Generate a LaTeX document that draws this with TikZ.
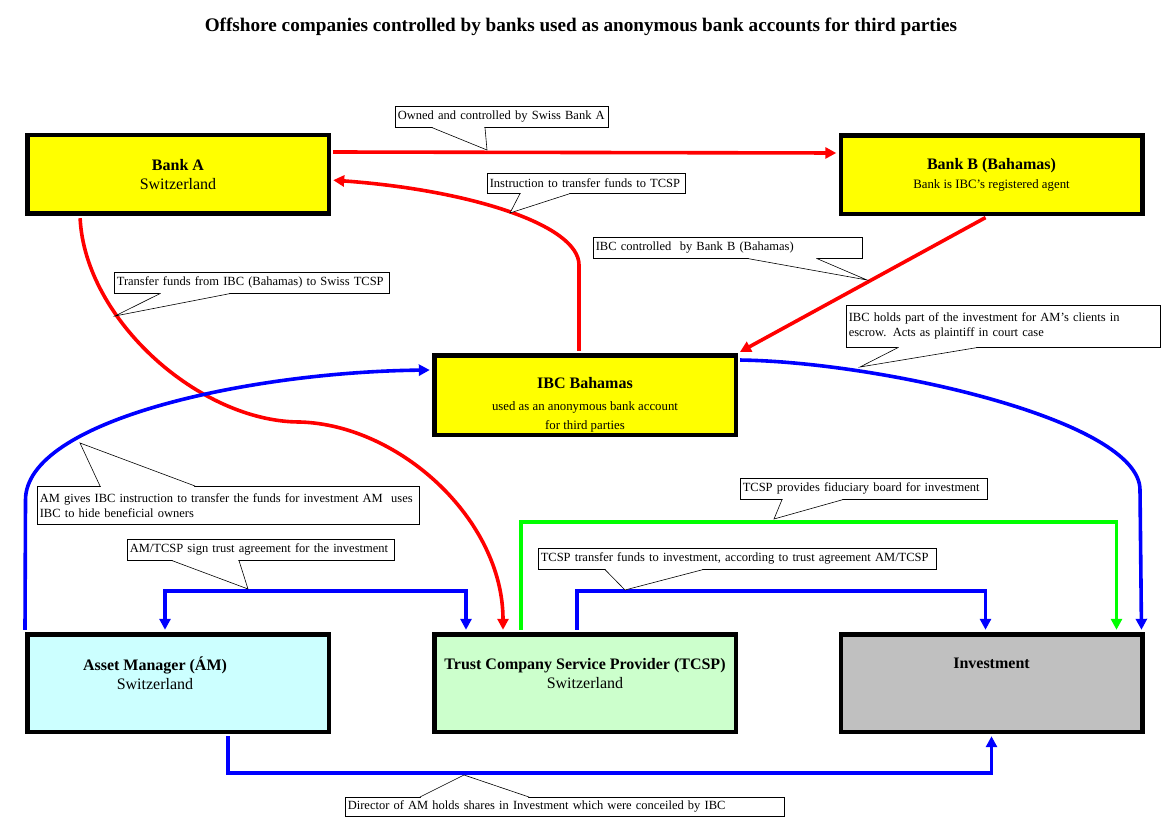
\documentclass[tikz,border=0pt]{standalone}
\usepackage{fontspec}
\setmainfont{Liberation Serif}
\usetikzlibrary{arrows.meta}

\definecolor{bankyellow}{RGB}{255,255,0}
\definecolor{amcyan}{RGB}{204,255,255}
\definecolor{tcspgreen}{RGB}{204,255,204}
\definecolor{invgray}{RGB}{192,192,192}
\definecolor{flowred}{RGB}{255,0,0}
\definecolor{flowblue}{RGB}{0,0,255}
\definecolor{flowgreen}{RGB}{0,255,0}

\newcommand\titlefont{\fontsize{19.2}{22}\selectfont\bfseries}
\newcommand\boxfont{\fontsize{16}{19.5}\selectfont}
\newcommand\subfont{\fontsize{12.8}{19}\selectfont}
\newcommand\notefont{\fontsize{12.5}{15}\selectfont\hyphenpenalty=10000}

% callout pointer: anchor, base offsets, tip
\newcommand\pointer[4]{%
  \fill[white] ([xshift=#2pt]#1) -- (#4) -- ([xshift=#3pt]#1) -- cycle;
  \draw[white, line width=1.4pt] ([xshift=#2pt+0.8pt]#1) -- ([xshift=#3pt-0.8pt]#1);
  \draw[line width=0.6pt] ([xshift=#2pt]#1) -- (#4) -- ([xshift=#3pt]#1);}

\begin{document}
\begin{tikzpicture}[x=1pt, y=-1pt, line join=miter,
  >={Triangle[length=11pt,width=11pt]},
  box/.style={draw, line width=4.5pt, minimum width=301.5pt, align=center,
    inner sep=0pt, font=\boxfont},
  flow/.style={line width=3.6pt, shorten <=2.2pt, shorten >=2.2pt},
  note/.style={draw, line width=0.6pt, fill=white, anchor=north west,
    align=left, inner xsep=2.5pt, inner ysep=1pt, font=\notefont}]

\useasboundingbox (0,0) rectangle (1175,834);

\node[font=\titlefont] (title) at (581,27)
  {Offshore companies controlled by banks used as anonymous bank accounts for third parties};

% banks
\node[box, fill=bankyellow, minimum height=78.5pt] (bankA) at (178,174.5)
  {\textbf{Bank A}\\Switzerland};
\node[box, fill=bankyellow, minimum height=78.5pt] (bankB) at (991.5,175)
  {\textbf{Bank B (Bahamas)}\\{\subfont Bank is IBC's registered agent}};

% IBC
\node[box, fill=bankyellow, minimum height=79.5pt] (ibc) at (585,395)
  {\mbox{}\\[12pt]\textbf{IBC Bahamas}\\[2pt]{\subfont used as an anonymous bank account}\\{\subfont for third parties}};

% bottom row
\node[box, fill=amcyan, minimum height=97.5pt] (am) at (178,683)
  {\textbf{Asset Manager (ÁM)}\rule{46pt}{0pt}\\Switzerland\rule{46pt}{0pt}\\\mbox{}};
\node[box, fill=tcspgreen, minimum height=97.5pt] (tcsp) at (585,683)
  {\textbf{Trust Company Service Provider (TCSP)}\\Switzerland\\\mbox{}};
\node[box, fill=invgray, minimum height=97.5pt] (inv) at (991.5,683)
  {\textbf{Investment}\\\mbox{}\\\mbox{}};

% red flows
\draw[flow, flowred, ->] ([yshift=22.5pt]bankA.east) -- ([yshift=22pt]bankB.west);
\draw[flow, flowred, ->] ([xshift=-6pt]ibc.north) -- (579,265)
  .. controls (579,225) and (470,190) .. ([yshift=-5.5pt]bankA.east);
\draw[flow, flowred, ->] ([xshift=-98pt]bankA.south)
  .. controls (85,320) and (200,422) .. (300,422)
  .. controls (400,425) and (503,520) .. ([xshift=-82pt]tcsp.north);
\draw[flow, flowred, ->] ([xshift=-4pt]bankB.south) -- (ibc.north east);

% blue flows
\draw[flow, flowblue, ->] (am.north west) -- (25.5,500)
  .. controls (25.5,420) and (250,372) .. ([yshift=25pt]ibc.west);
\draw[flow, flowblue, ->] ([yshift=35pt]ibc.east)
  .. controls (880,362) and (1140,420) .. (1140,490) -- ([xshift=-3pt]inv.north east);
\draw[flow, flowblue, <->] ([xshift=-13pt]am.north) -- ++(0,-41) -| ([xshift=-119pt]tcsp.north);
\draw[flow, flowblue, ->] ([xshift=-8pt]tcsp.north) -- ++(0,-41) -| ([xshift=-6pt]inv.north);
\draw[flow, flowblue, ->] ([xshift=50pt]am.south) -- ++(0,39) -| (inv.south);

% green flow
\draw[flow, flowgreen, ->] ([xshift=-64pt]tcsp.north) -- ++(0,-110) -| ([xshift=-28pt]inv.north east);

% callouts
\node[note, text width=208pt, minimum height=21pt] (owned) at (395,106)
  {Owned and controlled by Swiss Bank A};
\pointer{owned.south west}{37}{90}{487,150}

\node[note, text width=193pt, minimum height=20pt] (instr) at (487,173)
  {Instruction to transfer funds to TCSP};
\pointer{instr.south west}{33}{83}{510,213}

\node[note, text width=264pt, minimum height=21pt] (ibcctl) at (593,237)
  {IBC controlled \ by Bank B (Bahamas)};
\pointer{ibcctl.south west}{155}{224}{867,280}

\node[note, text width=309pt, minimum height=42pt] (escrow) at (846,305)
  {IBC holds part of the investment for AM's clients in\\escrow. Acts as plaintiff in court case};
\pointer{escrow.south west}{52}{131}{860,367}

\node[note, text width=270pt, minimum height=21pt] (xfer) at (114,272)
  {Transfer funds from IBC (Bahamas) to Swiss TCSP};
\pointer{xfer.south west}{46}{116}{115,316}

\node[note, text width=377pt, minimum height=38pt] (amgives) at (37,486)
  {AM gives IBC instruction to transfer the funds for investment AM \ uses\\IBC to hide beneficial owners};
\pointer{amgives.north west}{63}{158}{80,443}

\node[note, text width=262pt, minimum height=21pt] (sign) at (127,539)
  {AM/TCSP sign trust agreement for the investment};
\pointer{sign.south west}{45}{112}{248,589}

\node[note, text width=242pt, minimum height=21pt] (fid) at (740,478)
  {TCSP provides fiduciary board for investment};
\pointer{fid.south west}{42}{103}{774,519}

\node[note, text width=393pt, minimum height=21pt] (tcspxfer) at (538,548)
  {TCSP transfer funds to investment, according to trust agreement AM/TCSP};
\pointer{tcspxfer.south west}{67}{165}{625,590}

\node[note, text width=434pt, minimum height=19pt] (dir) at (345,797)
  {Director of AM holds shares in Investment which were conceiled by IBC};
\pointer{dir.north west}{75}{184}{464,775}

\end{tikzpicture}
\end{document}
